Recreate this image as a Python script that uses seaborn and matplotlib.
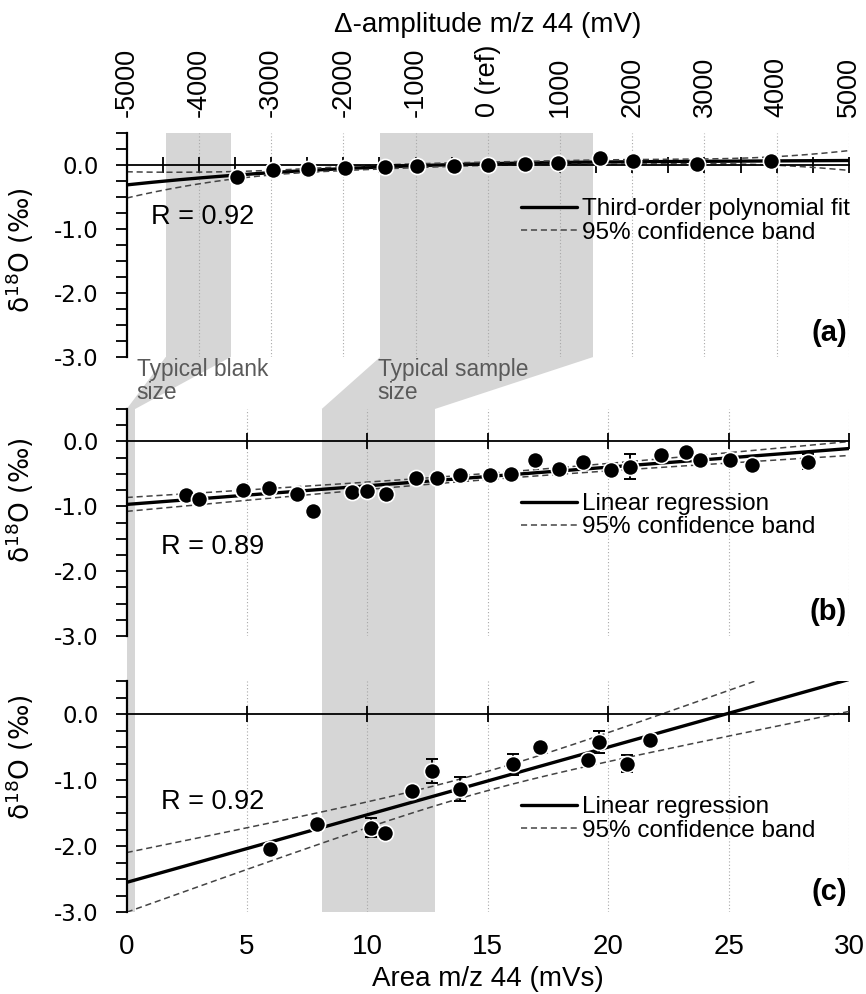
import numpy as np
import pandas as pd
import matplotlib
matplotlib.use("Agg")
import matplotlib.pyplot as plt
import seaborn as sns
from matplotlib.lines import Line2D
from matplotlib.patches import Polygon
from matplotlib.ticker import MultipleLocator, FuncFormatter
from math import lgamma, exp, sqrt, pi

# ---------------- data ----------------
# panel (a): delta-amplitude (mV) vs d18O
amp_a = [-3470, -2975, -2484, -1980, -1424, -974, -470, 0, 516, 972, 1557, 2012, 2898, 3925]
d18O_a = [-0.19, -0.08, -0.07, -0.05, -0.03, -0.02, -0.01, 0.00, 0.02, 0.03, 0.11, 0.06, 0.02, 0.07]

# panel (b): area (mVs) vs d18O
area_b = [2.47, 3.02, 4.83, 5.90, 7.08, 7.75, 9.36, 10.00, 10.77, 12.01, 12.88, 13.85, 15.10,
          15.96, 16.95, 17.95, 18.96, 20.13, 20.89, 22.18, 23.25, 23.80, 25.06, 25.97, 28.28]
d18O_b = [-0.82, -0.89, -0.75, -0.72, -0.81, -1.07, -0.78, -0.76, -0.81, -0.56, -0.56, -0.51, -0.51,
          -0.50, -0.29, -0.43, -0.31, -0.44, -0.39, -0.21, -0.16, -0.29, -0.29, -0.36, -0.31]
err_b = [0] * 18 + [0.19] + [0] * 5 + [0.12]

# panel (c): area (mVs) vs d18O
area_c = [5.94, 7.89, 10.16, 10.71, 11.84, 12.68, 13.85, 16.04, 17.17, 19.18, 19.63, 20.77, 21.74]
d18O_c = [-2.05, -1.67, -1.72, -1.81, -1.16, -0.86, -1.14, -0.76, -0.50, -0.70, -0.42, -0.75, -0.40]
err_c = [0, 0, 0.15, 0, 0, 0.18, 0.18, 0.16, 0, 0, 0.17, 0.13, 0]

amp_ticks = [-5000, -4000, -3000, -2000, -1000, 0, 1000, 2000, 3000, 4000, 5000]
amp_labels = ["-5000", "-4000", "-3000", "-2000", "-1000", "0 (ref)", "1000", "2000", "3000", "4000", "5000"]
area_ticks = [0, 5, 10, 15, 20, 25, 30]

blank_amp = [-4460, -3560]
sample_amp = [-1490, 1460]
blank_area = [0.0, 0.35]
sample_area = [8.1, 12.8]

r_texts = ["R = 0.92", "R = 0.89", "R = 0.92"]
fit_labels = [["Third-order polynomial fit", "95% confidence band"],
              ["Linear regression", "95% confidence band"],
              ["Linear regression", "95% confidence band"]]
panel_tags = ["(a)", "(b)", "(c)"]

# ---------------- style ----------------
sns.set_theme(style="white")
plt.rcParams["font.family"] = ["Liberation Sans", "DejaVu Sans"]
plt.rcParams["mathtext.fontset"] = "dejavusans"
plt.rcParams["text.color"] = "black"
plt.rcParams["axes.labelcolor"] = "black"

GRAY = "#d6d6d6"
DASH = (0, (4, 2.5))


def t975(df):
    grid = np.linspace(0.0, 12.0, 120001)
    c = exp(lgamma((df + 1) / 2) - lgamma(df / 2)) / sqrt(df * pi)
    pdf = c * (1 + grid ** 2 / df) ** (-(df + 1) / 2)
    cdf = 0.5 + np.concatenate([[0.0], np.cumsum(0.5 * (pdf[1:] + pdf[:-1]) * np.diff(grid))])
    return float(np.interp(0.975, cdf, grid))


def fit_band(x, y, order, xs):
    x = np.asarray(x, float)
    y = np.asarray(y, float)
    X = np.vander(x, order + 1)
    coef, *_ = np.linalg.lstsq(X, y, rcond=None)
    resid = y - X @ coef
    dof = len(x) - (order + 1)
    s2 = resid @ resid / dof
    cov = s2 * np.linalg.inv(X.T @ X)
    Xs = np.vander(xs, order + 1)
    yhat = Xs @ coef
    se = np.sqrt(np.einsum("ij,jk,ik->i", Xs, cov, Xs))
    t = t975(dof)
    return yhat, yhat - t * se, yhat + t * se


fig = plt.figure(figsize=(8.66, 9.94), dpi=100)
ax_a = fig.add_axes([0.1463, 0.64085, 0.8340, 0.22535])
ax_b = fig.add_axes([0.1463, 0.36016, 0.8340, 0.22837])
ax_c = fig.add_axes([0.1463, 0.08249, 0.8340, 0.23239])


def style(ax, xlim, major, minor=None):
    ax.set_xlim(*xlim)
    ax.set_ylim(-3.0, 0.5)
    for s in ["top", "right"]:
        ax.spines[s].set_visible(False)
    ax.spines["left"].set_linewidth(1.6)
    ax.spines["left"].set_color("black")
    ax.spines["bottom"].set_position(("data", 0))
    ax.spines["bottom"].set_linewidth(1.3)
    ax.spines["bottom"].set_color("black")
    ax.spines["bottom"].set_zorder(2.5)
    ax.xaxis.set_major_locator(MultipleLocator(major))
    if minor:
        ax.xaxis.set_minor_locator(MultipleLocator(minor))
    ax.tick_params(axis="x", which="both", direction="inout", length=12, width=1.3,
                   bottom=True, labelbottom=False, color="black")
    ax.yaxis.set_major_locator(MultipleLocator(1.0))
    ax.yaxis.set_minor_locator(MultipleLocator(0.25))
    ax.yaxis.set_major_formatter(FuncFormatter(lambda v, p: f"{v + 0:.1f}"))
    ax.tick_params(axis="y", which="both", direction="out", length=8, width=1.3,
                   left=True, color="black", labelsize=16.5, pad=12,
                   labelfontfamily="DejaVu Sans", labelcolor="black")
    ax.grid(axis="x", which="major", ls=(0, (1, 2)), lw=0.8, color="#a8a8a8")
    ax.grid(axis="y", visible=False)
    ax.set_axisbelow(True)


style(ax_a, (-5000, 5000), 1000, 500)
style(ax_b, (0, 30), 5)
style(ax_c, (0, 30), 5)

# shaded regions
ax_a.axvspan(*blank_amp, color=GRAY, lw=0, zorder=0.2)
ax_a.axvspan(*sample_amp, color=GRAY, lw=0, zorder=0.2)
for ax in (ax_b, ax_c):
    ax.axvspan(*blank_area, color=GRAY, lw=0, zorder=0.2)
    ax.axvspan(*sample_area, color=GRAY, lw=0, zorder=0.2)


def connector(ax_top, ax_bot, xr_top, xr_bot):
    y_top = ax_top.get_ylim()[0]
    y_bot = ax_bot.get_ylim()[1]
    pts = np.array([ax_top.transData.transform((xr_top[0], y_top)),
                    ax_top.transData.transform((xr_top[1], y_top)),
                    ax_bot.transData.transform((xr_bot[1], y_bot)),
                    ax_bot.transData.transform((xr_bot[0], y_bot))])
    pf = fig.transFigure.inverted().transform(pts)
    fig.add_artist(Polygon(pf, closed=True, transform=fig.transFigure,
                           facecolor=GRAY, edgecolor="none", zorder=-1))


connector(ax_a, ax_b, blank_amp, blank_area)
connector(ax_a, ax_b, sample_amp, sample_area)
connector(ax_b, ax_c, blank_area, blank_area)
connector(ax_b, ax_c, sample_area, sample_area)

# fits
xs_a = np.linspace(-5000, 5000, 400)
fa, la, ua = fit_band(np.asarray(amp_a) / 1000.0, d18O_a, 3, xs_a / 1000.0)
xs_bc = np.linspace(0, 30, 300)
fb, lb, ub = fit_band(area_b, d18O_b, 1, xs_bc)
fc, lc, uc = fit_band(area_c, d18O_c, 1, xs_bc)

for ax, xs, (f, lo, up) in ((ax_a, xs_a, (fa, la, ua)), (ax_b, xs_bc, (fb, lb, ub)), (ax_c, xs_bc, (fc, lc, uc))):
    sns.lineplot(x=xs, y=f, ax=ax, color="black", lw=2.4, errorbar=None, zorder=2)
    sns.lineplot(x=xs, y=lo, ax=ax, color="#444444", lw=1.1, ls=DASH, errorbar=None, zorder=2)
    sns.lineplot(x=xs, y=up, ax=ax, color="#444444", lw=1.1, ls=DASH, errorbar=None, zorder=2)

# error bars and points
for ax, x, y, e in ((ax_b, area_b, d18O_b, err_b), (ax_c, area_c, d18O_c, err_c)):
    x = np.asarray(x); y = np.asarray(y); e = np.asarray(e)
    m = e > 0
    ax.errorbar(x[m], y[m], yerr=e[m], fmt="none", ecolor="black", elinewidth=1.4,
                capsize=4, capthick=1.4, zorder=2.8)

for ax, x, y in ((ax_a, amp_a, d18O_a), (ax_b, area_b, d18O_b), (ax_c, area_c, d18O_c)):
    sns.scatterplot(x=x, y=y, ax=ax, color="black", edgecolor="white", linewidth=1.2,
                    s=135, zorder=3, legend=False)

# legends, R, tags
leg_pos = [(0.546, 0.607), (0.546, 0.53), (0.546, 0.4026)]
r_pos = [(0.034, 0.626), (0.047, 0.393), (0.047, 0.4775)]
tag_pos = [0.107, 0.107, 0.088]
ylab_pos = [0.475, 0.60, 0.671]
for i, ax in enumerate((ax_a, ax_b, ax_c)):
    handles = [Line2D([], [], color="black", lw=2.4),
               Line2D([], [], color="#444444", lw=1.1, ls=DASH)]
    ax.legend(handles, fit_labels[i], loc="center left", bbox_to_anchor=leg_pos[i],
              frameon=False, fontsize=17.5, handlelength=2.3, handletextpad=0.2,
              labelspacing=0.05, borderpad=0, borderaxespad=0)
    ax.text(*r_pos[i], r_texts[i], transform=ax.transAxes, ha="left", va="center", fontsize=19.5)
    ax.text(0.997, tag_pos[i], panel_tags[i], transform=ax.transAxes, ha="right", va="center",
            fontsize=21, fontweight="bold")
    ax.set_ylabel("δ$^{\\mathregular{18}}$O (‰)", fontsize=19, fontfamily="DejaVu Sans")
    ax.yaxis.set_label_coords(-0.1256, ylab_pos[i])
    ax.set_xlabel("")

# typical size annotations
ax_b.text(0.415, 1.28, "Typical blank\nsize", ha="left", va="top", color="#5a5a5a",
          fontsize=16.4, linespacing=1.0, clip_on=False)
ax_b.text(10.43, 1.28, "Typical sample\nsize", ha="left", va="top", color="#5a5a5a",
          fontsize=16.4, linespacing=1.0, clip_on=False)

# top axis (delta-amplitude)
top = ax_a.secondary_xaxis("top")
top.set_xticks(amp_ticks, labels=amp_labels)
top.tick_params(length=0, pad=11.5, labelsize=19.5, labelrotation=90, colors="black")
top.spines["top"].set_visible(False)
top.set_xlabel("Δ-amplitude m/z 44 (mV)", fontsize=20, labelpad=9)

# bottom axis (area)
bot = ax_c.secondary_xaxis("bottom")
bot.set_xticks(area_ticks)
bot.tick_params(length=0, pad=16, labelsize=20, colors="black")
bot.spines["bottom"].set_visible(False)
bot.set_xlabel("Area m/z 44 (mVs)", fontsize=20, labelpad=4)

fig.savefig("out.png", dpi=100)
